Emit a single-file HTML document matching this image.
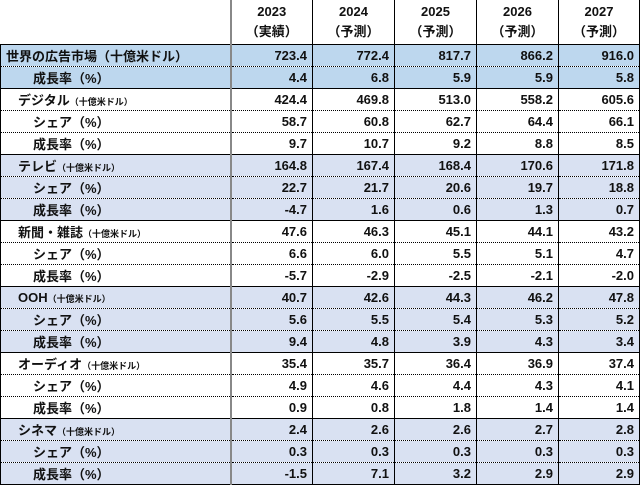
<!DOCTYPE html>
<html><head><meta charset="utf-8"><style>
body{margin:0;width:640px;height:487px;background:#fff;font-family:"Liberation Sans","Noto Sans CJK JP",sans-serif;font-weight:bold;color:#111;}
table{border-collapse:collapse;table-layout:fixed;position:absolute;left:0;top:0;}
td{height:21px;padding:0 5px 0 0;font-size:13px;text-align:right;border-left:1px solid #000;border-right:1px solid #000;border-top:1px dotted #000;white-space:nowrap;overflow:hidden;}
td.l{text-align:left;padding:0;border-right:2px solid #888;}
tr.s td{border-top:1px solid #000;}
tr.h td{height:44px;text-align:center;padding:0;font-size:13px;line-height:20px;border-top:none;}
tr.h td.l{border-left:none;}
.b{background:#bdd7ee}.g{background:#d9e1f2}
.i1{padding-left:5px!important}.i2{padding-left:17px!important}.i3{padding-left:32px!important}
small{font-size:9px}
</style></head><body>
<table>
<colgroup><col style="width:230px"><col style="width:82px"><col style="width:82px"><col style="width:82px"><col style="width:82px"><col style="width:81px"></colgroup>
<tr class="h"><td class="l"></td><td>2023<br>（実績）</td><td>2024<br>（予測）</td><td>2025<br>（予測）</td><td>2026<br>（予測）</td><td>2027<br>（予測）</td></tr>
<tr class="s b"><td class="l"><span class="i1" style="display:block">世界の広告市場（十億米ドル）</span></td><td>723.4</td><td>772.4</td><td>817.7</td><td>866.2</td><td>916.0</td></tr>
<tr class="b"><td class="l"><span class="i3" style="display:block">成長率（%）</span></td><td>4.4</td><td>6.8</td><td>5.9</td><td>5.9</td><td>5.8</td></tr>
<tr class="s"><td class="l"><span class="i2" style="display:block">デジタル<small>（十億米ドル）</small></span></td><td>424.4</td><td>469.8</td><td>513.0</td><td>558.2</td><td>605.6</td></tr>
<tr><td class="l"><span class="i3" style="display:block">シェア（%）</span></td><td>58.7</td><td>60.8</td><td>62.7</td><td>64.4</td><td>66.1</td></tr>
<tr><td class="l"><span class="i3" style="display:block">成長率（%）</span></td><td>9.7</td><td>10.7</td><td>9.2</td><td>8.8</td><td>8.5</td></tr>
<tr class="s g"><td class="l"><span class="i2" style="display:block">テレビ<small>（十億米ドル）</small></span></td><td>164.8</td><td>167.4</td><td>168.4</td><td>170.6</td><td>171.8</td></tr>
<tr class="g"><td class="l"><span class="i3" style="display:block">シェア（%）</span></td><td>22.7</td><td>21.7</td><td>20.6</td><td>19.7</td><td>18.8</td></tr>
<tr class="g"><td class="l"><span class="i3" style="display:block">成長率（%）</span></td><td>-4.7</td><td>1.6</td><td>0.6</td><td>1.3</td><td>0.7</td></tr>
<tr class="s"><td class="l"><span class="i2" style="display:block">新聞・雑誌<small>（十億米ドル）</small></span></td><td>47.6</td><td>46.3</td><td>45.1</td><td>44.1</td><td>43.2</td></tr>
<tr><td class="l"><span class="i3" style="display:block">シェア（%）</span></td><td>6.6</td><td>6.0</td><td>5.5</td><td>5.1</td><td>4.7</td></tr>
<tr><td class="l"><span class="i3" style="display:block">成長率（%）</span></td><td>-5.7</td><td>-2.9</td><td>-2.5</td><td>-2.1</td><td>-2.0</td></tr>
<tr class="s g"><td class="l"><span class="i2" style="display:block">OOH<small>（十億米ドル）</small></span></td><td>40.7</td><td>42.6</td><td>44.3</td><td>46.2</td><td>47.8</td></tr>
<tr class="g"><td class="l"><span class="i3" style="display:block">シェア（%）</span></td><td>5.6</td><td>5.5</td><td>5.4</td><td>5.3</td><td>5.2</td></tr>
<tr class="g"><td class="l"><span class="i3" style="display:block">成長率（%）</span></td><td>9.4</td><td>4.8</td><td>3.9</td><td>4.3</td><td>3.4</td></tr>
<tr class="s"><td class="l"><span class="i2" style="display:block">オーディオ<small>（十億米ドル）</small></span></td><td>35.4</td><td>35.7</td><td>36.4</td><td>36.9</td><td>37.4</td></tr>
<tr><td class="l"><span class="i3" style="display:block">シェア（%）</span></td><td>4.9</td><td>4.6</td><td>4.4</td><td>4.3</td><td>4.1</td></tr>
<tr><td class="l"><span class="i3" style="display:block">成長率（%）</span></td><td>0.9</td><td>0.8</td><td>1.8</td><td>1.4</td><td>1.4</td></tr>
<tr class="s g"><td class="l"><span class="i2" style="display:block">シネマ<small>（十億米ドル）</small></span></td><td>2.4</td><td>2.6</td><td>2.6</td><td>2.7</td><td>2.8</td></tr>
<tr class="g"><td class="l"><span class="i3" style="display:block">シェア（%）</span></td><td>0.3</td><td>0.3</td><td>0.3</td><td>0.3</td><td>0.3</td></tr>
<tr class="g" style="border-bottom:1px solid #000"><td class="l"><span class="i3" style="display:block">成長率（%）</span></td><td>-1.5</td><td>7.1</td><td>3.2</td><td>2.9</td><td>2.9</td></tr>
</table>
</body></html>
